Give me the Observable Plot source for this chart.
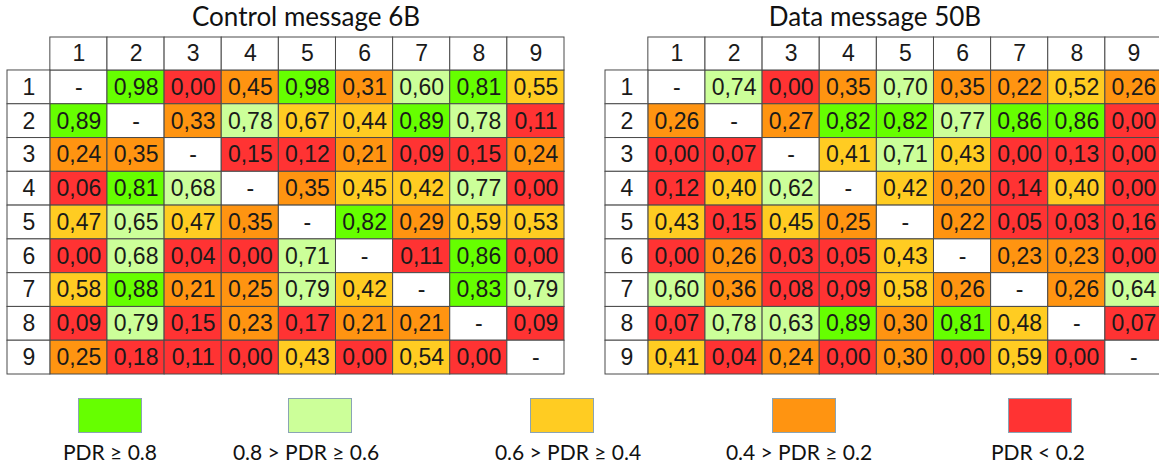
<!DOCTYPE html>
<html>
<head>
<meta charset="utf-8">
<script src="https://cdn.jsdelivr.net/npm/d3@7"></script>
<script src="https://cdn.jsdelivr.net/npm/@observablehq/plot@0.6"></script>
<style>
  html, body { margin: 0; padding: 0; background: #fff; overflow: hidden; }
  #chart svg { display: block; max-width: none; }
  #legend { position: relative; width: 1159px; height: 83px; font-family: Lato, "Open Sans", sans-serif; }
  .sw { position: absolute; top: 13px; width: 62px; height: 33px; border: 1px solid #8aa4b4; box-sizing: content-box; }
  .lb { position: absolute; top: 55px; width: 220px; text-align: center; font-size: 21px; line-height: 24px; color: #111; white-space: nowrap; }
</style>
</head>
<body>
<div id="chart"></div>
<div id="legend"></div>
<script>
// ---- data ----
const tableNames = ["Control message 6B", "Data message 50B"];
const nodeLabels = ["1", "2", "3", "4", "5", "6", "7", "8", "9"];

const controlValues = [
  [null, 0.98, 0.00, 0.45, 0.98, 0.31, 0.60, 0.81, 0.55],
  [0.89, null, 0.33, 0.78, 0.67, 0.44, 0.89, 0.78, 0.11],
  [0.24, 0.35, null, 0.15, 0.12, 0.21, 0.09, 0.15, 0.24],
  [0.06, 0.81, 0.68, null, 0.35, 0.45, 0.42, 0.77, 0.00],
  [0.47, 0.65, 0.47, 0.35, null, 0.82, 0.29, 0.59, 0.53],
  [0.00, 0.68, 0.04, 0.00, 0.71, null, 0.11, 0.86, 0.00],
  [0.58, 0.88, 0.21, 0.25, 0.79, 0.42, null, 0.83, 0.79],
  [0.09, 0.79, 0.15, 0.23, 0.17, 0.21, 0.21, null, 0.09],
  [0.25, 0.18, 0.11, 0.00, 0.43, 0.00, 0.54, 0.00, null]
];
// colour class of each cell as shown in the picture (G, L, Y, O, R; "-" = none)
const controlClasses = [
  "-GROGOLGY",
  "G-OLYYGLR",
  "OO-RRORRO",
  "RGL-OYYLR",
  "YLYO-GOYY",
  "RLRRL-RGR",
  "YGOOLY-GL",
  "RLROROO-R",
  "ORRRYRYR-"
];

const dataValues = [
  [null, 0.74, 0.00, 0.35, 0.70, 0.35, 0.22, 0.52, 0.26],
  [0.26, null, 0.27, 0.82, 0.82, 0.77, 0.86, 0.86, 0.00],
  [0.00, 0.07, null, 0.41, 0.71, 0.43, 0.00, 0.13, 0.00],
  [0.12, 0.40, 0.62, null, 0.42, 0.20, 0.14, 0.40, 0.00],
  [0.43, 0.15, 0.45, 0.25, null, 0.22, 0.05, 0.03, 0.16],
  [0.00, 0.26, 0.03, 0.05, 0.43, null, 0.23, 0.23, 0.00],
  [0.60, 0.36, 0.08, 0.09, 0.58, 0.26, null, 0.26, 0.64],
  [0.07, 0.78, 0.63, 0.89, 0.30, 0.81, 0.48, null, 0.07],
  [0.41, 0.04, 0.24, 0.00, 0.30, 0.00, 0.59, 0.00, null]
];
const dataClasses = [
  "-LROLOOYO",
  "O-OGGLGGR",
  "RR-YLYRRR",
  "RYL-YORYR",
  "YRYO-ORRR",
  "RORRY-OOR",
  "LORRYO-OL",
  "RLLGOGY-R",
  "YRORORYR-"
];

const classKeys = ["-", "G", "L", "Y", "O", "R"];
const classColors = ["#ffffff", "#66ff00", "#ccff99", "#ffcc22", "#ff9411", "#ff3333"];
const legendKeys = ["G", "L", "Y", "O", "R"];
const legendLabels = ["PDR \u2265 0.8", "0.8 > PDR \u2265 0.6", "0.6 > PDR \u2265 0.4", "0.4 > PDR \u2265 0.2", "PDR < 0.2"];

// ---- build tables ----
const cells = [];
[[controlValues, controlClasses], [dataValues, dataClasses]].forEach(([vals, cls], t) => {
  vals.forEach((row, r) => row.forEach((v, c) => {
    cells.push({table: tableNames[t], row: r + 1, col: c + 1, value: v, cls: cls[r][c]});
  }));
});
const colHeads = [], rowHeads = [];
tableNames.forEach(t => nodeLabels.forEach((lab, i) => {
  colHeads.push({table: t, col: i + 1, label: lab});
  rowHeads.push({table: t, row: i + 1, label: lab});
}));
const fmt = v => v == null ? "-" : v.toFixed(2).replace(".", ",");

const cellFont = "Arial, 'Liberation Sans', Arimo, sans-serif";
const titleFont = "Lato";
const gridColor = "#4a4a4a";
const headerH = 33 / 33.8;
const cellFontSize = 23;

const chart = Plot.plot({
  width: 1165,
  height: 385,
  marginLeft: 7,
  marginRight: 3,
  marginTop: 37,
  marginBottom: 11,
  style: {maxWidth: "none", background: "white", fontFamily: "Arial, 'Liberation Sans', sans-serif"},
  fx: {domain: tableNames, paddingInner: 0.0686, paddingOuter: 0, axis: null},
  x: {domain: [-0.75, 9], axis: null},
  y: {domain: [-headerH, 9], reverse: true, axis: null},
  color: {type: "ordinal", domain: classKeys, range: classColors},
  marks: [
    Plot.rect(cells, {fx: "table", x1: d => d.col - 1, x2: d => d.col, y1: d => d.row - 1, y2: d => d.row, fill: "cls", stroke: gridColor, strokeWidth: 1}),
    Plot.rect(colHeads, {fx: "table", x1: d => d.col - 1, x2: d => d.col, y1: -headerH, y2: 0, fill: "white", stroke: gridColor, strokeWidth: 1}),
    Plot.rect(rowHeads, {fx: "table", x1: -0.75, x2: 0, y1: d => d.row - 1, y2: d => d.row, fill: "white", stroke: gridColor, strokeWidth: 1}),
    Plot.text(cells, {fx: "table", x: d => d.col - 0.5, y: d => d.row - 0.5, text: d => fmt(d.value), fontSize: cellFontSize, fontFamily: cellFont, fill: "#1a1a1a"}),
    Plot.text(colHeads, {fx: "table", x: d => d.col - 0.5, y: -headerH / 2, text: "label", fontSize: cellFontSize, fontFamily: cellFont, fill: "#1a1a1a"}),
    Plot.text(rowHeads, {fx: "table", x: -0.375, y: d => d.row - 0.5, text: "label", fontSize: cellFontSize, fontFamily: cellFont, fill: "#1a1a1a"}),
    Plot.text([tableNames[0]], {fx: d => d, text: d => d, frameAnchor: "top", lineAnchor: "middle", dy: -20, dx: 20, fontSize: 26, fontFamily: titleFont, fill: "#111"}),
    Plot.text([tableNames[1]], {fx: d => d, text: d => d, frameAnchor: "top", lineAnchor: "middle", dy: -20, dx: -9, fontSize: 26, fontFamily: titleFont, fill: "#111"})
  ]
});
document.getElementById("chart").appendChild(chart);

// ---- legend ----
const legendSwatchCenters = [110, 320, 562, 804, 1040];
const legendLabelCenters = [110, 306, 568, 799, 1038];
const color = chart.scale("color");
const legend = document.getElementById("legend");
legendKeys.forEach((k, i) => {
  const sw = document.createElement("div");
  sw.className = "sw";
  sw.style.left = (legendSwatchCenters[i] - 32) + "px";
  sw.style.background = color.range[color.domain.indexOf(k)];
  legend.appendChild(sw);
  const lb = document.createElement("div");
  lb.className = "lb";
  lb.style.left = (legendLabelCenters[i] - 110) + "px";
  lb.textContent = legendLabels[i];
  legend.appendChild(lb);
});
</script>
</body>
</html>
